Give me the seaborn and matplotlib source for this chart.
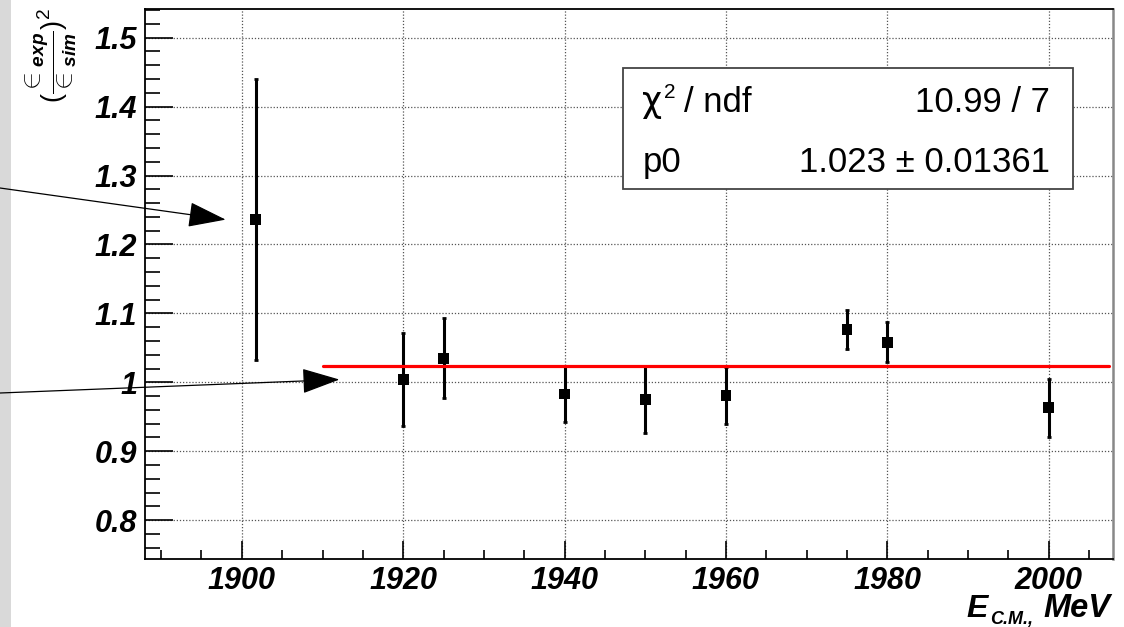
import numpy as np
import pandas as pd
import matplotlib
matplotlib.use("Agg")
import matplotlib.pyplot as plt
from matplotlib.patches import Rectangle
import seaborn as sns

# Efficiency ratio squared vs. c.m. energy
energy = [1901.7, 1920, 1925, 1940, 1950, 1960, 1975, 1980, 2000]
ratio = [1.236, 1.004, 1.035, 0.983, 0.975, 0.981, 1.077, 1.058, 0.963]
ratio_err = [0.204, 0.068, 0.058, 0.040, 0.048, 0.041, 0.028, 0.029, 0.042]

# Constant fit (p0) over the points above 1910 MeV
fit_range = [1910, 2007.5]
fit_p0 = 1.023
fit_p0_err = 0.01361
fit_chi2 = 10.99
fit_ndf = 7

x_ticks = [1900, 1920, 1940, 1960, 1980, 2000]
y_ticks = [0.8, 0.9, 1.0, 1.1, 1.2, 1.3, 1.4, 1.5]
y_tick_labels = ["0.8", "0.9", "1", "1.1", "1.2", "1.3", "1.4", "1.5"]

sns.set_style("white")
plt.rcParams["font.family"] = ["Liberation Sans", "DejaVu Sans"]
plt.rcParams["text.color"] = "black"
plt.rcParams["mathtext.fontset"] = "custom"
plt.rcParams["mathtext.rm"] = "Liberation Sans"
plt.rcParams["mathtext.it"] = "Liberation Sans:bold:italic"
plt.rcParams["mathtext.bf"] = "Liberation Sans:bold"

W, H = 1124, 627
fig = plt.figure(figsize=(W / 100, H / 100), dpi=100)
fig.patch.set_facecolor("white")
# textured paper strip on the left edge
fig.patches.append(Rectangle((0, 0), 11 / W, 1, transform=fig.transFigure,
                             facecolor="#d9d9d9", edgecolor="none", zorder=-5))


def px(x, y):
    """Figure fraction from pixel position measured from the top-left corner."""
    return x / W, 1 - y / H


ax = fig.add_axes([145 / W, 1 - 559.3 / H, (1113.3 - 145) / W, (559.3 - 9) / H])
ax.set_xlim(1888, 2008)
ax.set_ylim(0.7432, 1.5416)

df = pd.DataFrame({"energy": energy, "ratio": ratio, "err": ratio_err})

ax.errorbar(df["energy"], df["ratio"], yerr=df["err"], fmt="none",
            ecolor="black", elinewidth=2.2, capsize=1.2, capthick=2, zorder=3)
sns.scatterplot(data=df, x="energy", y="ratio", marker="s", s=62,
                color="black", edgecolor="none", ax=ax, zorder=4, legend=False)

fit_df = pd.DataFrame({"x": fit_range, "y": [fit_p0, fit_p0]})
sns.lineplot(data=fit_df, x="x", y="y", color="red", lw=2.3, ax=ax, zorder=5)

# ticks, grid, spines
ax.set_xticks(x_ticks)
ax.set_xticks(np.arange(1890, 2008, 5), minor=True)
ax.set_yticks(y_ticks)
ax.set_yticklabels(y_tick_labels)
ax.set_yticks(np.arange(0.76, 1.541, 0.02), minor=True)
ax.tick_params(axis="both", which="both", direction="in", top=False, right=False,
               bottom=True, left=True, color="black", width=1.2,
               labelcolor="black")
ax.tick_params(axis="y", which="major", length=20, pad=5.5, labelsize=22)
ax.tick_params(axis="y", which="minor", length=11)
ax.tick_params(axis="x", which="major", length=13, pad=5, labelsize=22)
ax.tick_params(axis="x", which="minor", length=6.5)
for lab in ax.get_xticklabels() + ax.get_yticklabels():
    lab.set_fontweight("bold")
    lab.set_fontstyle("italic")

ax.grid(True, which="major", linestyle=(0, (1, 1.5)), color="#555555", lw=0.9)
for side in ["left", "bottom", "top"]:
    ax.spines[side].set_color("black")
    ax.spines[side].set_linewidth(1.3)
ax.spines["right"].set_color("#888888")
ax.spines["right"].set_linewidth(1.8)
ax.set_xlabel("")
ax.set_ylabel("")

# x axis title: E with subscript C.M., then unit
bi = dict(fontweight="bold", fontstyle="italic", va="baseline")
fig.text(*px(966, 617), "E", ha="left", fontsize=23, **bi)
fig.text(*px(990, 624), "C.M.,", ha="left", fontsize=13, **bi)
fig.text(*px(1110, 617), "MeV", ha="right", fontsize=23.5, **bi)

# y axis title
fig.text(*px(51, 8), r"$(\dfrac{\in_{exp}}{\in_{sim}})^{2}$",
         rotation=90, ha="center", va="top", fontsize=19.5)

# fit statistics box
box_x0, box_x1 = 622.7, 1072.7
box_y0, box_y1 = 67.7, 189.3
fig.patches.append(Rectangle((box_x0 / W, 1 - box_y1 / H), (box_x1 - box_x0) / W,
                             (box_y1 - box_y0) / H, transform=fig.transFigure,
                             facecolor="white", edgecolor="#444444", lw=1.3, zorder=10))
base1, base2 = 112, 172
st = dict(va="baseline", zorder=11)
fig.text(*px(642, base1), "χ", ha="left", fontsize=25,
         family=["DejaVu Sans"], **st)
fig.text(*px(664, base1 - 14), "2", ha="left", fontsize=15, **st)
fig.text(*px(684, base1), "/ ndf", ha="left", fontsize=25, **st)
fig.text(*px(1050, base1), f"{fit_chi2:.2f} / {fit_ndf}", ha="right",
         fontsize=25, **st)
fig.text(*px(643, base2), "p0", ha="left", fontsize=25, **st)
fig.text(*px(1050, base2), f"{fit_p0:.3f} ± {fit_p0_err:.5f}", ha="right",
         fontsize=25, **st)

# arrows pointing at the first two points
arrow_kw = dict(arrowstyle="-|>,head_length=24,head_width=8", color="black",
                lw=0.9, mutation_scale=1, shrinkA=0, shrinkB=0)
ax.annotate("", xy=(energy[0] - 3.7, ratio[0]), xycoords="data",
            xytext=(0, H - 188), textcoords="figure pixels",
            arrowprops=arrow_kw, annotation_clip=False)
ax.annotate("", xy=(energy[1] - 7.9, ratio[1]), xycoords="data",
            xytext=(0, H - 393), textcoords="figure pixels",
            arrowprops=arrow_kw, annotation_clip=False)

fig.savefig("out.png", dpi=100)
